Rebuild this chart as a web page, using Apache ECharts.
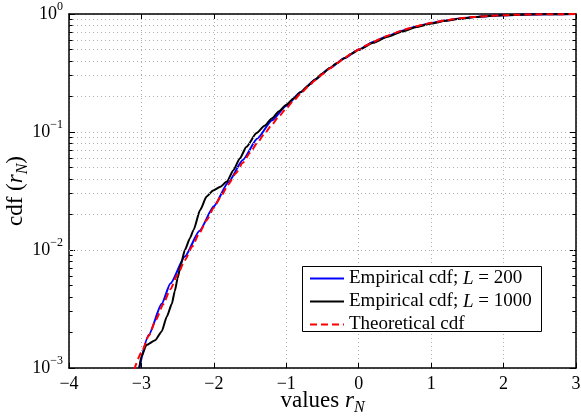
<!DOCTYPE html>
<html>
<head>
<meta charset="utf-8">
<script src="https://cdn.jsdelivr.net/npm/echarts@6/dist/echarts.min.js"></script>
<style>html,body{margin:0;padding:0;background:#fff}#c{width:581px;height:419px}</style>
</head>
<body>
<div id="c"></div>
<script>
// ---- data ----
var xTicks = [-4, -3, -2, -1, 0, 1, 2, 3];
var yTicks = [0.001, 0.01, 0.1, 1];
var seriesNames = ['Empirical cdf; L = 200', 'Empirical cdf; L = 1000', 'Theoretical cdf'];

var emp200X = [-3.03, -2.9, -2.72, -2.6, -2.4, -2.2, -2.0, -1.8, -1.6, -1.4, -1.2, -1.0, -0.8, -0.6, -0.4, -0.2, 0, 0.2, 0.4, 0.6, 0.8, 1.0, 1.2, 1.4, 1.6, 1.8, 2.0, 2.3, 2.6, 3.0];
var emp200Y = [0.001, 0.0019, 0.0035, 0.0052, 0.0088, 0.0145, 0.0235, 0.0375, 0.058, 0.088, 0.125, 0.167, 0.218, 0.279, 0.347, 0.421, 0.5, 0.578, 0.652, 0.722, 0.785, 0.838, 0.882, 0.917, 0.944, 0.963, 0.977, 0.989, 0.995, 0.999];

var emp1000X = [-3.03, -3.0, -2.93, -2.81, -2.72, -2.65, -2.58, -2.54, -2.5, -2.46, -2.4, -2.33, -2.28, -2.19, -2.1, -2.01, -1.91, -1.82, -1.73, -1.64, -1.55, -1.41, -1.3, -1.2, -1.1, -1.0, -0.9, -0.8, -0.7, -0.6, -0.5, -0.4, -0.3, -0.2, -0.1, 0, 0.2, 0.4, 0.6, 0.8, 1.0, 1.2, 1.4, 1.6, 1.8, 2.0, 2.2, 2.5, 3.0];
var emp1000Y = [0.001, 0.00125, 0.00157, 0.00172, 0.00204, 0.00272, 0.0035, 0.00447, 0.00575, 0.0074, 0.01, 0.0126, 0.0148, 0.0218, 0.0284, 0.032, 0.0344, 0.038, 0.0475, 0.06, 0.075, 0.098, 0.113, 0.13, 0.15, 0.17, 0.192, 0.218, 0.247, 0.279, 0.313, 0.348, 0.384, 0.421, 0.46, 0.497, 0.57, 0.64, 0.71, 0.775, 0.83, 0.876, 0.912, 0.942, 0.962, 0.976, 0.986, 0.994, 0.999];

var theoX = [-3.1, -3.0, -2.9, -2.8, -2.7, -2.6, -2.5, -2.4, -2.3, -2.2, -2.1, -2.0, -1.9, -1.8, -1.7, -1.6, -1.5, -1.4, -1.3, -1.2, -1.1, -1.0, -0.9, -0.8, -0.7, -0.6, -0.5, -0.4, -0.3, -0.2, -0.1, 0, 0.1, 0.2, 0.3, 0.4, 0.5, 0.6, 0.7, 0.8, 0.9, 1.0, 1.2, 1.4, 1.6, 1.8, 2.0, 2.2, 2.4, 2.6, 2.8, 3.0];
var theoY = [0.00097, 0.00135, 0.00187, 0.00256, 0.00347, 0.00466, 0.00621, 0.0082, 0.0107, 0.0139, 0.0179, 0.0228, 0.0287, 0.0359, 0.0446, 0.0548, 0.0668, 0.0808, 0.0968, 0.115, 0.136, 0.159, 0.184, 0.212, 0.242, 0.274, 0.309, 0.345, 0.382, 0.421, 0.46, 0.5, 0.54, 0.579, 0.618, 0.655, 0.691, 0.726, 0.758, 0.788, 0.816, 0.841, 0.885, 0.919, 0.945, 0.964, 0.977, 0.986, 0.992, 0.995, 0.997, 0.9987];

// ---- build ----
function pairs(xs, ys) { return xs.map(function (x, i) { return [x, ys[i]]; }); }
var FONT = '"Liberation Serif", "DejaVu Serif", serif';
var GRIDC = '#b0b0b0';

// minor log grid lines (2..9 in each decade)
var minorVals = [];
for (var d = 0.001; d < 1; d *= 10) {
  for (var k = 2; k <= 9; k++) minorVals.push(+(k * d).toPrecision(3));
}
var minorGrid = minorVals.map(function (v) { return { yAxis: v }; });
var minorTicks = [];
minorVals.forEach(function (v) {
  minorTicks.push([{ coord: [-4, v] }, { coord: [-3.95, v] }]);
  minorTicks.push([{ coord: [3, v] }, { coord: [2.95, v] }]);
});

function expLabel(v) {
  var e = Math.round(Math.log10(v));
  return '{a|10}{b|' + (e < 0 ? '\u2212' + (-e) : e) + '}';
}

var titleRich = {
  n: { fontFamily: FONT, fontSize: 23, color: '#000', lineHeight: 30, verticalAlign: 'middle' },
  i: { fontFamily: FONT, fontSize: 23, fontStyle: 'italic', color: '#000', lineHeight: 30, verticalAlign: 'middle' },
  s: { fontFamily: FONT, fontSize: 16, fontStyle: 'italic', color: '#000', lineHeight: 15, verticalAlign: 'bottom' }
};

var chart = echarts.init(document.getElementById('c'), null, { renderer: 'canvas' });
chart.setOption({
  animation: false,
  backgroundColor: '#fff',
  textStyle: { fontFamily: FONT },
  grid: { left: 69, top: 14, right: 5, bottom: 51, containLabel: false, outerBoundsMode: 'none' },
  graphic: [{
    type: 'rect', left: 302, top: 266, z: 50,
    shape: { width: 239, height: 65 },
    style: { fill: '#fff', stroke: '#000', lineWidth: 1 }
  }],
  legend: {
    orient: 'vertical',
    left: 302, top: 267,
    padding: [2, 4, 2, 7],
    itemGap: 4,
    itemWidth: 34, itemHeight: 14,
    z: 60,
    backgroundColor: 'transparent',
    borderWidth: 0,
    itemStyle: { opacity: 0 },
    data: seriesNames,
    formatter: function (name) {
      var m = name.match(/^(Empirical cdf; )L( = \d+)$/);
      if (m) return '{n|' + m[1] + '}{i|L}{n|' + m[2] + '}';
      return '{n|' + name + '}';
    },
    textStyle: {
      color: '#000', fontFamily: FONT, fontSize: 19,
      rich: {
        n: { fontFamily: FONT, fontSize: 19, color: '#000', lineHeight: 18 },
        i: { fontFamily: FONT, fontSize: 19, fontStyle: 'italic', color: '#000', lineHeight: 18 }
      }
    }
  },
  xAxis: [{
    type: 'value', min: -4, max: 3, interval: 1,
    axisLine: { onZero: false, lineStyle: { color: '#000', width: 1.5 } },
    axisTick: { inside: true, length: 5, lineStyle: { color: '#000' } },
    axisLabel: {
      color: '#000', fontFamily: FONT, fontSize: 18, margin: 7,
      formatter: function (v) { return v < 0 ? '\u2212' + (-v) : String(v); }
    },
    splitLine: { show: true, lineStyle: { color: GRIDC, type: [1, 3], width: 1 } },
    name: '{n|values }{i|r}{s|N}',
    nameLocation: 'middle', nameGap: 18, nameMoveOverlap: false,
    nameTextStyle: { color: '#000', rich: titleRich }
  }, {
    type: 'value', min: -4, max: 3, interval: 1, position: 'top',
    axisLine: { onZero: false, lineStyle: { color: '#000', width: 1.5 } },
    axisTick: { inside: true, length: 5, lineStyle: { color: '#000' } },
    axisLabel: { show: false }, splitLine: { show: false }
  }],
  yAxis: [{
    type: 'log', logBase: 10, min: 0.001, max: 1,
    axisLine: { onZero: false, lineStyle: { color: '#000', width: 1.5 } },
    axisTick: { inside: true, length: 6, lineStyle: { color: '#000' } },
    axisLabel: {
      color: '#000', margin: 6,
      formatter: expLabel,
      rich: {
        a: { fontFamily: FONT, fontSize: 18, color: '#000', lineHeight: 26, verticalAlign: 'middle' },
        b: { fontFamily: FONT, fontSize: 12, color: '#000', lineHeight: 12, verticalAlign: 'top' }
      }
    },
    splitLine: { show: true, lineStyle: { color: GRIDC, type: [1, 3], width: 1 } },
    name: '{n|cdf (}{i|r}{s|N}{n|)}',
    nameLocation: 'middle', nameGap: 38, nameRotate: 90, nameMoveOverlap: false,
    nameTextStyle: { color: '#000', rich: titleRich }
  }, {
    type: 'log', logBase: 10, min: 0.001, max: 1, position: 'right',
    axisLine: { onZero: false, lineStyle: { color: '#000', width: 1.5 } },
    axisTick: { inside: true, length: 6, lineStyle: { color: '#000' } },
    axisLabel: { show: false }, splitLine: { show: false }
  }],
  series: [
    {
      name: '__grid', type: 'line', data: [], silent: true,
      markLine: {
        silent: true, symbol: 'none', label: { show: false }, animation: false,
        lineStyle: { color: GRIDC, type: [1, 3], width: 1 },
        data: minorGrid
      }
    },
    {
      name: '__ticks', type: 'line', data: [], silent: true,
      markLine: {
        silent: true, symbol: 'none', label: { show: false }, animation: false,
        lineStyle: { color: '#000', type: 'solid', width: 1 },
        data: minorTicks
      }
    },
    {
      name: seriesNames[0], type: 'line', data: pairs(emp200X, emp200Y),
      showSymbol: false, symbol: 'none', smooth: 0.2, smoothMonotone: 'x', z: 3,
      lineStyle: { color: '#0000ff', width: 2 }, itemStyle: { color: '#0000ff' }
    },
    {
      name: seriesNames[1], type: 'line', data: pairs(emp1000X, emp1000Y),
      showSymbol: false, symbol: 'none', smooth: 0.2, smoothMonotone: 'x', z: 4,
      lineStyle: { color: '#000000', width: 2 }, itemStyle: { color: '#000000' }
    },
    {
      name: seriesNames[2], type: 'line', data: pairs(theoX, theoY),
      showSymbol: false, symbol: 'none', smooth: 0.2, smoothMonotone: 'x', z: 5,
      lineStyle: { color: '#ff0000', width: 2, type: [7, 4] }, itemStyle: { color: '#ff0000' }
    }
  ]
});
</script>
</body>
</html>
